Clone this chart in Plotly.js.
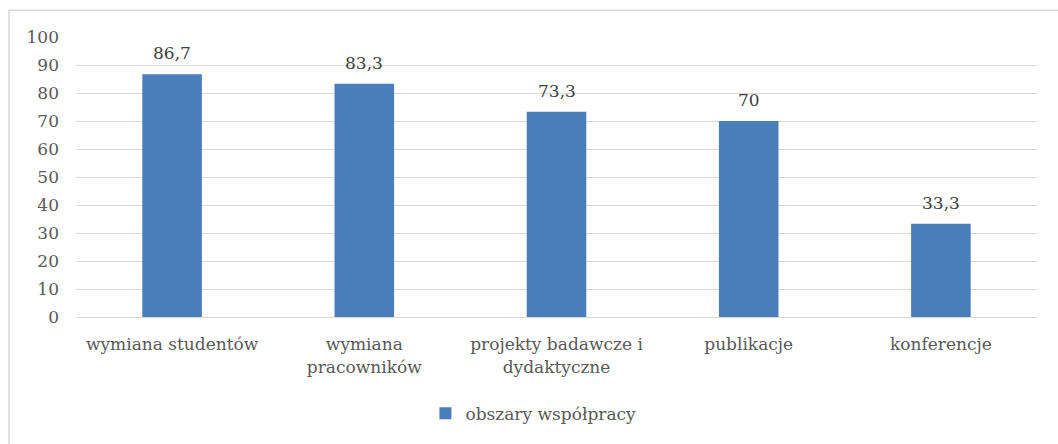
<!DOCTYPE html>
<html><head><meta charset="utf-8">
<script src="https://cdn.plot.ly/plotly-3.0.1.min.js"></script>
<style>body{margin:0;background:#fff}#c{width:1058px;height:444px}</style>
</head><body><div id="c"></div>
<script>
const categories = ["wymiana studentów", "wymiana<br>pracowników", "projekty badawcze i<br>dydaktyczne", "publikacje", "konferencje"];
const values = [86.7, 83.3, 73.3, 70, 33.3];
const seriesName = "obszary współpracy";
const yTicks = [0,10,20,30,40,50,60,70,80,90,100];

const font = "DejaVu Serif";
const trace = {
  type: "bar", x: categories, y: values, name: seriesName,
  marker: {color: "#4a7ebb"},
  showlegend: true
};
const labels = categories.map((c, i) => ({
  x: c, y: values[i], xref: "x", yref: "y",
  text: String(values[i]).replace(".", ","),
  showarrow: false, yanchor: "bottom", yshift: 9,
  font: {family: font, size: 17, color: "#404040"}
}));
const layout = {
  width: 1058, height: 444,
  margin: {l: 76, r: 21, t: 37, b: 125},
  paper_bgcolor: "#fff", plot_bgcolor: "#fff",
  font: {family: font, size: 17, color: "#595959"},
  bargap: 0.69,
  xaxis: {type: "category", showline: true, linecolor: "#d9d9d9", linewidth: 1, ticks: "", ticklabelstandoff: 12, tickfont: {family: font, size: 17, color: "#595959"}},
  yaxis: {range: [0, 100], tickvals: yTicks, showgrid: true, gridcolor: "#d9d9d9", zeroline: false, showline: false, ticks: "", ticklabelstandoff: 16, tickfont: {family: font, size: 17, color: "#595959"}, automargin: false},
  showlegend: true,
  legend: {orientation: "h", x: 0.476, xanchor: "center", y: -0.345, yanchor: "middle", itemwidth: 30, font: {family: font, size: 17, color: "#595959"}},
  annotations: labels,
  shapes: [{type: "rect", xref: "paper", yref: "paper", x0: -0.0697, x1: 1.2, y0: -0.6, y1: 1.0957, line: {color: "#d9d9d9", width: 1.5}, layer: "below"}]
};
Plotly.newPlot("c", [trace], layout, {displayModeBar: false, staticPlot: true});
</script></body></html>
